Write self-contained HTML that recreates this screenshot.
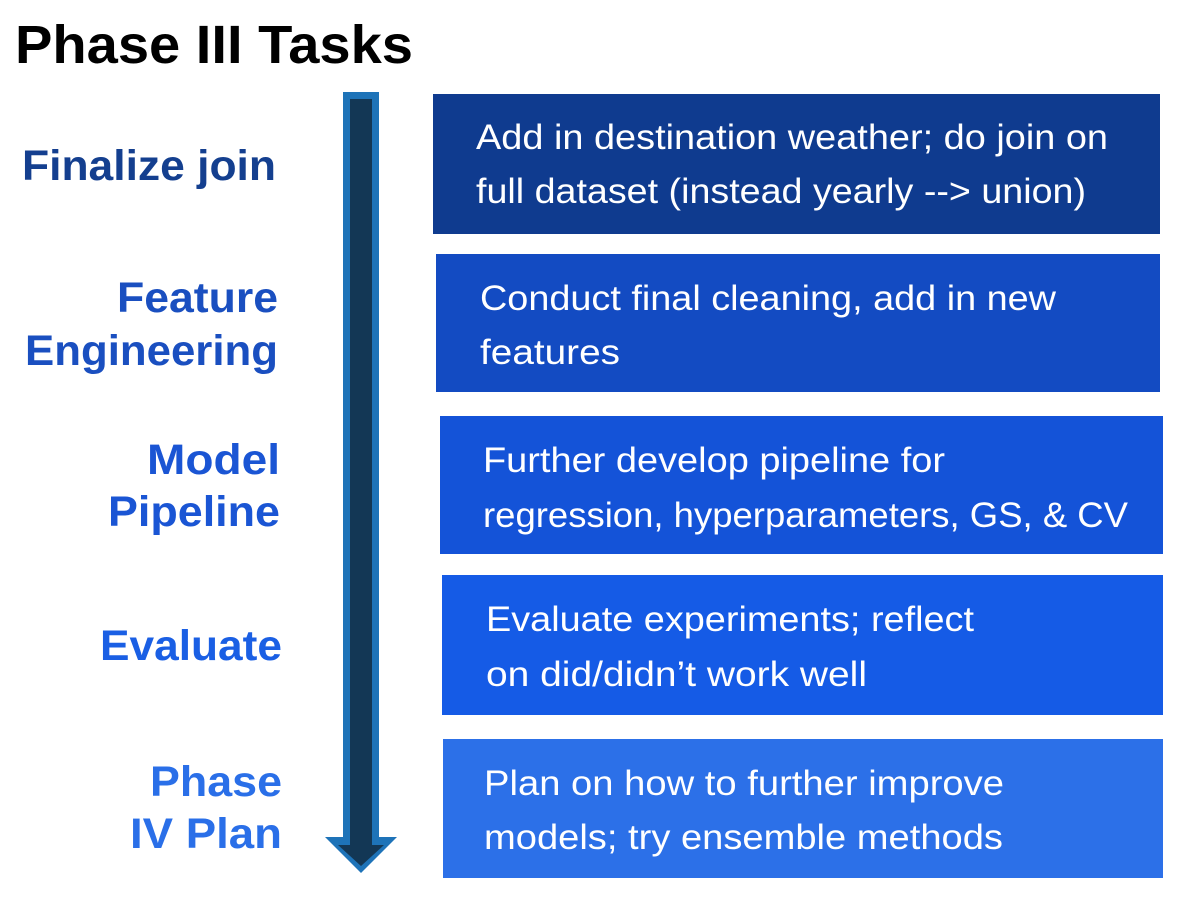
<!DOCTYPE html>
<html><head><meta charset="utf-8"><style>
html,body{margin:0;padding:0;background:#fff;}
svg{display:block;}
text{font-family:"Liberation Sans",sans-serif;}
</style></head><body>
<svg width="1192" height="908" viewBox="0 0 1192 908" xmlns="http://www.w3.org/2000/svg">
<rect width="1192" height="908" fill="#fff"/>
<text x="15" y="63" font-size="54" font-weight="bold" fill="#000" textLength="398" lengthAdjust="spacingAndGlyphs">Phase III Tasks</text>

<!-- arrow -->
<polygon points="343,92 379,92 379,837 397,837 361,873 325,837 343,837" fill="#1e73b8"/>
<polygon points="350,99 372,99 372,845 384,845 361,866 338,845 350,845" fill="#133755"/>

<!-- labels -->
<g font-size="43" font-weight="bold" text-anchor="end">
<text x="276" y="180" fill="#143f8f" textLength="254" lengthAdjust="spacingAndGlyphs">Finalize join</text>
<text x="278" y="312" fill="#1a4fc0" textLength="161" lengthAdjust="spacingAndGlyphs">Feature</text>
<text x="278" y="365" fill="#1a4fc0" textLength="253" lengthAdjust="spacingAndGlyphs">Engineering</text>
<text x="280" y="474" fill="#1a55d4" textLength="133" lengthAdjust="spacingAndGlyphs">Model</text>
<text x="280" y="526" fill="#1a55d4" textLength="172" lengthAdjust="spacingAndGlyphs">Pipeline</text>
<text x="282" y="660" fill="#1a5fe4" textLength="182" lengthAdjust="spacingAndGlyphs">Evaluate</text>
<text x="282" y="796" fill="#2a6fe8" textLength="132" lengthAdjust="spacingAndGlyphs">Phase</text>
<text x="282" y="848" fill="#2a6fe8" textLength="152" lengthAdjust="spacingAndGlyphs">IV Plan</text>
</g>

<!-- boxes -->
<rect x="433" y="94" width="727" height="140" fill="#0f3b8f"/>
<rect x="436" y="254" width="724" height="138" fill="#134bc2"/>
<rect x="440" y="416" width="723" height="138" fill="#1453d8"/>
<rect x="442" y="575" width="721" height="140" fill="#155be6"/>
<rect x="443" y="739" width="720" height="139" fill="#2c70e8"/>

<g font-size="35" fill="#fff">
<text x="476" y="149" textLength="632" lengthAdjust="spacingAndGlyphs">Add in destination weather; do join on</text>
<text x="476" y="203" textLength="610" lengthAdjust="spacingAndGlyphs">full dataset (instead yearly --&gt; union)</text>
<text x="480" y="310" textLength="576" lengthAdjust="spacingAndGlyphs">Conduct final cleaning, add in new</text>
<text x="480" y="364" textLength="140" lengthAdjust="spacingAndGlyphs">features</text>
<text x="483" y="472" textLength="462" lengthAdjust="spacingAndGlyphs">Further develop pipeline for</text>
<text x="483" y="527" textLength="645" lengthAdjust="spacingAndGlyphs">regression, hyperparameters, GS, &amp; CV</text>
<text x="486" y="631" textLength="488" lengthAdjust="spacingAndGlyphs">Evaluate experiments; reflect</text>
<text x="486" y="686" textLength="381" lengthAdjust="spacingAndGlyphs">on did/didn’t work well</text>
<text x="484" y="795" textLength="520" lengthAdjust="spacingAndGlyphs">Plan on how to further improve</text>
<text x="484" y="849" textLength="519" lengthAdjust="spacingAndGlyphs">models; try ensemble methods</text>
</g>
</svg>
</body></html>
